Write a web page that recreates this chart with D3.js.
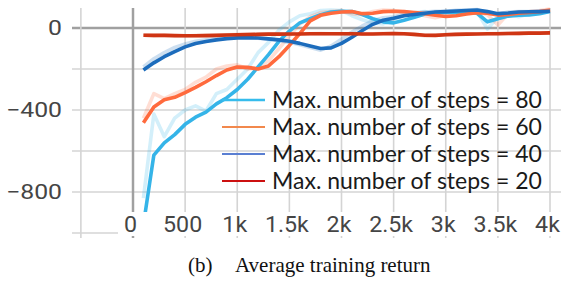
<!DOCTYPE html>
<html>
<head>
<meta charset="utf-8">
<script src="https://cdn.jsdelivr.net/npm/d3@7"></script>
<style>
  body { margin: 0; background: #fff; }
  svg { display: block; }
</style>
</head>
<body>
<svg width="561" height="282"></svg>
<script>
// training steps (x)
const steps = [100,200,300,400,500,600,700,800,900,1000,1100,1200,1300,1400,1500,1600,1700,1800,1900,2000,
               2100,2200,2300,2400,2500,2600,2700,2800,2900,3000,3100,3200,3300,3400,3500,3600,3700,3800,3900,4000];

// smoothed returns
const ret80 = [-960,-620,-560,-520,-470,-435,-410,-370,-340,-300,-250,-190,-130,-65,-15,25,45,65,78,82,
               80,66,45,30,25,38,52,68,75,76,76,78,72,30,45,58,62,64,70,80];
const ret60 = [-462,-385,-350,-338,-315,-290,-262,-232,-205,-190,-192,-200,-185,-140,-85,-27,35,62,72,78,
               80,70,72,80,82,80,76,70,62,56,60,68,75,72,63,66,72,76,80,88];
const ret40 = [-205,-170,-140,-115,-92,-76,-66,-58,-52,-48,-47,-49,-53,-58,-65,-75,-88,-100,-97,-75,
               -45,-12,18,38,48,60,66,72,78,80,83,85,88,80,70,73,78,79,80,82];
const ret20 = [-35,-36,-36,-37,-38,-38,-37,-36,-34,-33,-32,-31,-30,-30,-29,-29,-28,-28,-28,-28,
               -28,-29,-29,-28,-27,-28,-31,-35,-36,-33,-31,-30,-29,-28,-28,-27,-26,-25,-25,-24];

// raw (unsmoothed) returns, drawn faint
const raw80 = [-830,-420,-530,-440,-400,-380,-405,-320,-300,-250,-200,-120,-70,-10,30,60,70,85,88,85,
               60,40,25,20,38,60,75,80,70,80,72,78,80,-5,55,68,55,70,78,85];
const raw60 = [-440,-320,-345,-320,-300,-265,-240,-200,-185,-180,-200,-195,-160,-100,-40,20,55,75,80,85,
               70,65,80,88,85,78,72,60,50,62,72,80,78,65,15,70,78,80,85,92];
const raw40 = [-190,-150,-120,-95,-78,-65,-58,-50,-47,-44,-45,-50,-55,-62,-70,-82,-95,-108,-88,-55,
               -20,10,35,50,55,68,70,78,82,82,86,88,90,72,68,78,80,80,82,84];
const raw20 = [-34,-37,-35,-38,-39,-37,-36,-35,-33,-32,-31,-30,-30,-29,-29,-28,-28,-27,-28,-29,
               -27,-30,-28,-27,-27,-29,-33,-37,-35,-32,-30,-29,-28,-28,-27,-26,-26,-24,-25,-23];

const names = ["Max. number of steps = 80", "Max. number of steps = 60",
               "Max. number of steps = 40", "Max. number of steps = 20"];
const lineColors = ["#35b4e8", "#ff6a3d", "#1c6cbc", "#cf3514"];
const legendColors = ["#36bcec", "#f2884c", "#5a7fd2", "#cc1010"];

const yTicks = [0, -400, -800];
const xTicks = [0, 500, 1000, 1500, 2000, 2500, 3000, 3500, 4000];
const xTickLabels = ["0", "500", "1k", "1.5k", "2k", "2.5k", "3k", "3.5k", "4k"];

let svg = d3.select("svg");

let x = d3.scaleLinear().domain([0, 4000]).range([133, 550]);
let y = d3.scaleLinear().domain([-1000, 0]).range([233, 28]);

// grid
let grid = svg.append("g");
grid.selectAll("line.h")
    .data(d3.range(-1000, 1, 200))
    .enter().append("line")
    .attr("x1", 72).attr("x2", 561)
    .attr("y1", d => y(d)).attr("y2", d => y(d))
    .style("stroke", d => d === 0 ? "#a0a0a0" : "#d4d4d4")
    .style("stroke-width", d => d === 0 ? 2.5 : 1.6);
grid.selectAll("line.v")
    .data(d3.range(-500, 4001, 500))
    .enter().append("line")
    .attr("x1", d => x(d)).attr("x2", d => x(d))
    .attr("y1", 8).attr("y2", 238)
    .style("stroke", d => d === 0 ? "#a0a0a0" : "#d4d4d4")
    .style("stroke-width", d => d === 0 ? 2.5 : 1.6);

// series
let series = [
    {raw: raw80, smooth: ret80},
    {raw: raw60, smooth: ret60},
    {raw: raw40, smooth: ret40},
    {raw: raw20, smooth: ret20}
];

let line = d3.line()
    .x(function(d, i) { return x(steps[i]); })
    .y(function(d) { return y(d); });

let plot = svg.append("g");
series.forEach(function(s, i) {
    plot.append("path")
        .attr("d", line(s.raw))
        .style("fill", "none")
        .style("stroke", lineColors[i])
        .style("stroke-opacity", 0.22)
        .style("stroke-width", 3.6)
        .style("stroke-linejoin", "round");
});
series.forEach(function(s, i) {
    plot.append("path")
        .attr("d", line(s.smooth))
        .style("fill", "none")
        .style("stroke", lineColors[i])
        .style("stroke-width", 3.6)
        .style("stroke-linejoin", "round");
});

// white band under the x tick labels
svg.append("rect")
    .attr("x", 118).attr("y", 212)
    .attr("width", 443).attr("height", 24)
    .style("fill", "#fff");

// axes (labels only); the original labels are a bit stretched sideways
let yAxis = d3.axisLeft(y).tickValues(yTicks).tickSize(0).tickPadding(0);
svg.append("g")
    .attr("transform", "translate(62,0)")
    .call(yAxis)
    .call(g => g.select(".domain").remove())
    .selectAll("text")
    .attr("transform", "scale(1.18,1)")
    .style("font-family", "Roboto")
    .style("font-size", "21px")
    .style("fill", "#454545");

let xAxis = d3.axisBottom(x).tickValues(xTicks).tickSize(0).tickPadding(0)
    .tickFormat((d, i) => xTickLabels[i]);
svg.append("g")
    .attr("transform", "translate(-3,217)")
    .call(xAxis)
    .call(g => g.select(".domain").remove())
    .selectAll("text")
    .attr("transform", "scale(1.08,1)")
    .style("font-family", "Roboto")
    .style("font-size", "21.5px")
    .style("fill", "#454545");

// legend
let legend = svg.append("g");
names.forEach(function(n, i) {
    let ly = 100 + i * 27;
    legend.append("line")
        .attr("x1", 222).attr("x2", 265)
        .attr("y1", ly).attr("y2", ly)
        .style("stroke", legendColors[i])
        .style("stroke-width", i === 0 ? 2.6 : 2);
    legend.append("text")
        .attr("x", 272).attr("y", ly)
        .attr("dy", "0.36em")
        .style("font-family", "Lato")
        .style("font-size", "23px")
        .style("fill", "#1a1a1a")
        .text(n);
});

// caption
svg.append("text")
    .attr("x", 188).attr("y", 272)
    .style("font-family", "Liberation Serif")
    .style("font-size", "21px")
    .style("fill", "#111")
    .text("(b)");
svg.append("text")
    .attr("x", 235).attr("y", 272)
    .style("font-family", "Liberation Serif")
    .style("font-size", "21px")
    .style("fill", "#111")
    .text("Average training return");
</script>
</body>
</html>
